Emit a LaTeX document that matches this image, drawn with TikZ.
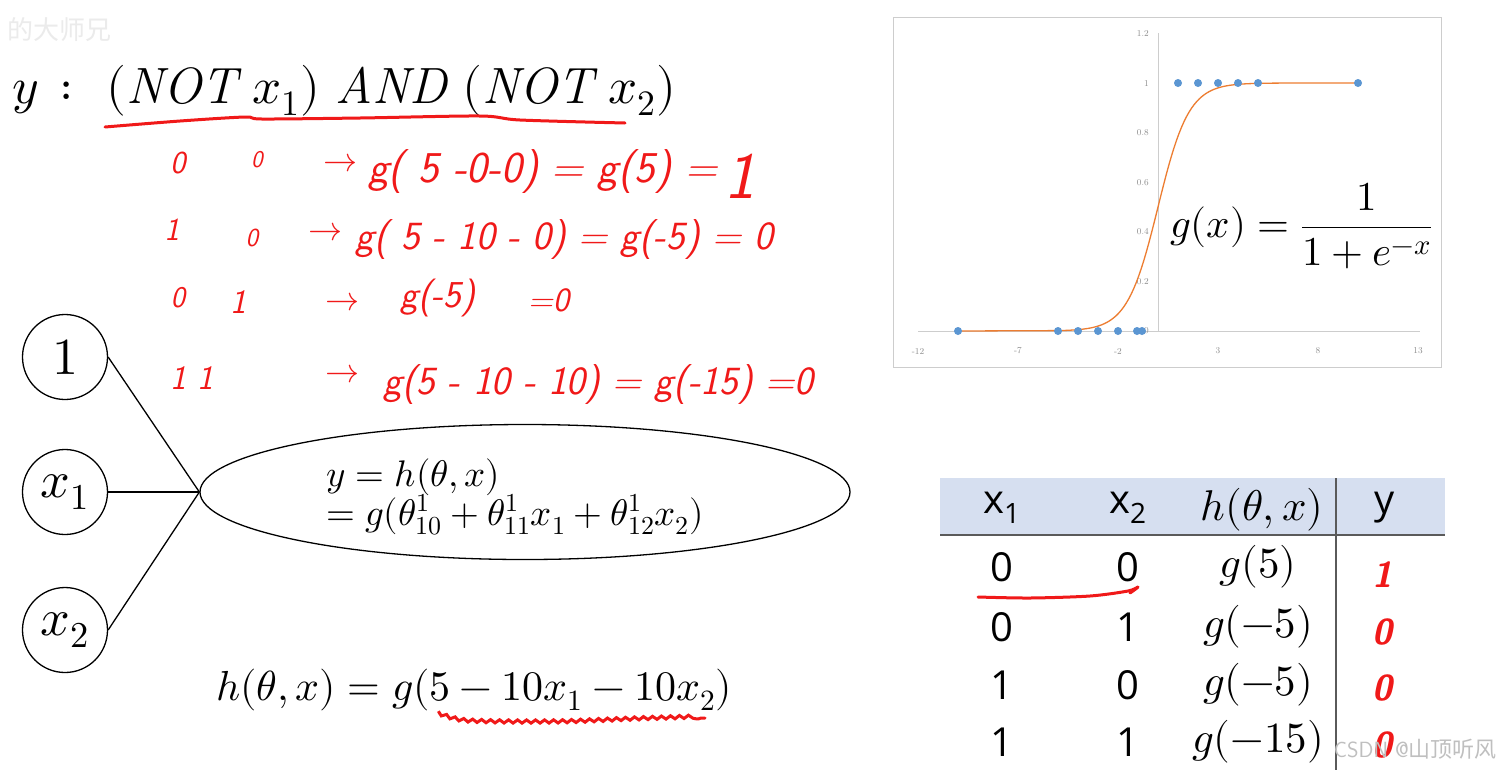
\documentclass[tikz,border=0pt]{standalone}
\usepackage{amsmath}
\usepackage{fontspec}
\usepackage{unicode-math}
\setmathfont{Latin Modern Math}
\usetikzlibrary{shapes.geometric,decorations.pathmorphing}
\newfontfamily\cjk{Noto Sans CJK SC}
\newfontfamily\tabfont{Open Sans}
\definecolor{handred}{RGB}{240,25,25}
\definecolor{hdrblue}{RGB}{214,223,240}
\definecolor{axisgray}{RGB}{205,205,205}
\definecolor{ticklab}{RGB}{140,140,140}
\definecolor{dotblue}{RGB}{91,150,210}
\definecolor{curveor}{RGB}{237,125,49}
\definecolor{tabline}{RGB}{90,90,90}
\newcommand\hws[1]{\fontsize{#1}{#1}\selectfont\sffamily\itshape}
\newcommand\fsz[1]{\fontsize{#1}{#1}\selectfont}
\begin{document}
\begin{tikzpicture}[x=1pt,y=-1pt,
  hw/.style={text=handred, inner sep=0pt},
  redline/.style={draw=handred, line width=3pt, line cap=round, line join=round},
  neuron/.style={circle, draw, line width=1.3pt, minimum size=85pt, inner sep=0pt, font=\fsz{52}},
  wire/.style={draw, line width=1.3pt},
  tick/.style={text=ticklab, font=\fsz{9}, inner sep=1pt},
  dot/.style={fill=dotblue, draw=none},
  tabtxt/.style={font=\tabfont\fsz{40}, inner sep=0pt},
  tabmath/.style={font=\fsz{43}, inner sep=0pt}]
\useasboundingbox[fill=white] (0,0) rectangle (1503,777);

% watermarks
\node[text=black!8, font=\cjk\fsz{26}, anchor=west] (wm1) at (4,30) {的大师兄};
% title
\node[anchor=base west, inner sep=0pt, font=\fsz{51}] (title) at (12,103)
  {$y\ \colon\ (\mathit{NOT}\ x_1)\ \mathit{AND}\ (\mathit{NOT}\ x_2)$};
\draw[redline] plot[smooth] coordinates {(105,127) (180,121) (245,117) (262,119) (360,118) (480,116) (520,120) (625,123)};

% handwritten rows
\node[hw, font=\hws{32}] (r1a) at (178,163) {0};
\node[hw, font=\hws{24}] (r1b) at (257,160) {0};
\node[hw, font=\fsz{34}] (r1c) at (340,163) {$\rightarrow$};
\node[hw, font=\hws{44}, anchor=west] (r1d) at (368,172) {g( 5 -0-0) = g(5) =};
\node[hw, font=\hws{66}] (r1e) at (740,176) {1};

\node[hw, font=\hws{32}] (r2a) at (172,230) {1};
\node[hw, font=\hws{26}] (r2b) at (252,238) {0};
\node[hw, font=\fsz{34}] (r2c) at (325,232) {$\rightarrow$};
\node[hw, font=\hws{40}, anchor=west] (r2d) at (355,240) {g( 5 - 10 - 0) = g(-5) = 0};

\node[hw, font=\hws{30}] (r3a) at (178,298) {0};
\node[hw, font=\hws{34}] (r3b) at (238,302) {1};
\node[hw, font=\fsz{34}] (r3c) at (342,302) {$\rightarrow$};
\node[hw, font=\hws{38}, anchor=west] (r3d) at (400,298) {g(-5)};
\node[hw, font=\hws{34}, anchor=west] (r3e) at (528,300) {=0};

\node[hw, font=\hws{34}] (r4a) at (192,378) {1\,\,1};
\node[hw, font=\fsz{34}] (r4c) at (342,374) {$\rightarrow$};
\node[hw, font=\hws{40}, anchor=west] (r4d) at (383,385) {g(5 - 10 - 10) = g(-15) =0};

% network
\node[neuron] (n1) at (65,357) {$1$};
\node[neuron] (nx1) at (65,492) {$x_1$};
\node[neuron] (nx2) at (65,630) {$x_2$};
\node[ellipse, draw, line width=1.3pt, minimum width=650pt, minimum height=135pt, inner sep=0pt] (out) at (525,492) {};
\node[anchor=west, inner sep=0pt, font=\fsz{37}, align=left] (outtxt) at (326,497)
  {$y = h(\theta,x)$\\[-2pt] $= g(\theta^1_{10} + \theta^1_{11}x_1 + \theta^1_{12}x_2)$};
\draw[wire] (n1.east) -- (out.west);
\draw[wire] (nx1.east) -- (out.west);
\draw[wire] (nx2.east) -- (out.west);

% bottom formula
\node[anchor=west, inner sep=0pt, font=\fsz{42}] (hform) at (216,690) {$h(\theta,x) = g(5 - 10x_1 - 10x_2)$};
\draw[draw=handred, line width=3pt, line cap=round, decorate, decoration={snake, amplitude=1.6pt, segment length=9pt}]
  plot[smooth] coordinates {(440,714) (470,722) (560,723) (640,720) (705,718)};

% graph
\draw[draw=axisgray, line width=1pt] (893,17) rectangle (1441,367);
\draw[draw=axisgray, line width=1pt] (1158,33) -- (1158,331);
\draw[draw=axisgray, line width=1pt] (918,331) -- (1420,331);
\foreach \v/\lab in {0/0,1/0.2,2/0.4,3/0.6,4/0.8,5/1,6/1.2}
  \node[tick, anchor=east] (yl\v) at (1150,{331-49.6*\v}) {\lab};
\foreach \v/\lab in {-12/-12,-7/-7,-2/-2,3/3,8/8,13/13}
  \node[tick] (xl\v) at ({1158+20*\v},351) {\lab};
\draw[curveor, line width=1.3pt] (958,331) -- (1058,330.6)
  -- plot[domain=-5:10, samples=120] ({1158+20*\x},{331-248/(1+exp(-1.3*\x))});
\foreach \px in {958,1058,1078,1098,1118,1137,1142}
  \fill[dot] (\px,331) circle (4);
\foreach \px in {1178,1198,1218,1238,1258,1358}
  \fill[dot] (\px,83) circle (4);
\node[anchor=west, inner sep=0pt, font=\fsz{41}] (gform) at (1170,226) {$g(x) = \dfrac{1}{1+e^{-x}}$};

% table
\fill[hdrblue] (940,478) rectangle (1445,535);
\draw[tabline, line width=1.2pt] (940,535) -- (1445,535);
\draw[tabline, line width=1.2pt] (1336,478) -- (1336,770);
\node[tabtxt] (hx1) at (1002,508) {x\textsubscript{1}};
\node[tabtxt] (hx2) at (1128,508) {x\textsubscript{2}};
\node[tabmath] (hh) at (1262,510) {$h(\theta,x)$};
\node[tabtxt] (hy) at (1385,508) {y};
\foreach \r/\yy/\a/\b/\h in {1/567/0/0/{g(5)},2/627/0/1/{g(-5)},3/685/1/0/{g(-5)},4/742/1/1/{g(-15)}} {
  \node[tabtxt] (ta\r) at (1002,\yy) {\a};
  \node[tabtxt] (tb\r) at (1128,\yy) {\b};
  \node[tabmath] (th\r) at (1258,\yy) {$\h$};
}
\node[hw, font=\hws{36}\bfseries] (ty1) at (1382,575) {1};
\node[hw, font=\hws{36}\bfseries] (ty2) at (1382,632) {0};
\node[hw, font=\hws{36}\bfseries] (ty3) at (1382,688) {0};
\node[hw, font=\hws{36}\bfseries] (ty4) at (1382,745) {0};
\draw[redline] plot[smooth] coordinates {(978,597) (1030,598) (1090,596) (1128,591) (1138,587) (1130,593)};

\node[text=black!25, font=\fsz{22}, anchor=east, inner sep=0pt] (wm2) at (1497,749) {\sffamily CSDN @\cjk 山顶听风};
\end{tikzpicture}
\end{document}
